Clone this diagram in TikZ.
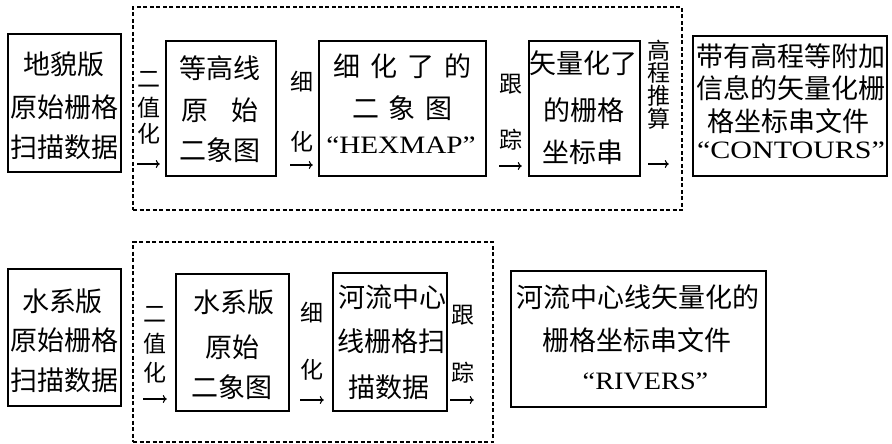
\documentclass[tikz,border=0pt]{standalone}
\usepackage{fontspec}
\setmainfont{Liberation Serif}
\newfontfamily\cjk{Noto Sans CJK SC}
\usetikzlibrary{arrows.meta}
\newcommand\cst{\rule[-3.24pt]{0pt}{27pt}}
\newcommand\lst{\rule[-2.76pt]{0pt}{23pt}}
\tikzset{
  box/.style={draw, line width=2.4pt, inner sep=0pt},
  dbox/.style={draw, line width=1.1pt, dash pattern=on 4pt off 2.5pt, inner sep=0pt},
  tx/.style={inner sep=0pt, font=\cjk\fontsize{27pt}{27pt}\selectfont},
  lb/.style={inner sep=0pt, font=\cjk\fontsize{23pt}{23pt}\selectfont},
  lat/.style={inner sep=0pt, font=\fontsize{25pt}{25pt}\selectfont},
  arr/.style={-{To[length=4pt,width=8pt]}, line width=1.1pt},
}
\begin{document}
\begin{tikzpicture}[x=1pt,y=-1pt]
\useasboundingbox (0,0) rectangle (892,444);
% dashed groups
\node[dbox, minimum width=549pt, minimum height=203pt] (g1) at (407.5,108.5) {};
\node[dbox, minimum width=360pt, minimum height=200pt] (g2) at (313,342) {};
% boxes top row
\node[box, minimum width=113pt, minimum height=138pt] (a) at (64.5,103) {};
\node[box, minimum width=110pt, minimum height=135pt] (b) at (221,108.5) {};
\node[box, minimum width=167pt, minimum height=135pt] (c) at (402.5,108.5) {};
\node[box, minimum width=111pt, minimum height=135pt] (d) at (584.5,108.5) {};
\node[box, minimum width=194pt, minimum height=140pt] (e) at (790,106) {};
% boxes bottom row
\node[box, minimum width=113pt, minimum height=137pt] (f) at (64.5,337.5) {};
\node[box, minimum width=113pt, minimum height=137pt] (g) at (232.5,342.5) {};
\node[box, minimum width=114pt, minimum height=138pt] (h) at (390,342) {};
\node[box, minimum width=255pt, minimum height=136pt] (i) at (638.5,339) {};
% box texts
\node[tx] (a1) at (64,64) {\cst 地貌版};
\node[tx] (a2) at (64,107) {\cst 原始栅格};
\node[tx] (a3) at (64,147) {\cst 扫描数据};
\node[tx] (b1) at (220,68) {\cst 等高线};
\node[tx] (b2) at (220,110) {\cst 原\hspace{24pt}始};
\node[tx] (b3) at (220,150) {\cst 二象图};
\node[tx] (c1) at (402.5,66) {\cst 细\hspace{10pt}化\hspace{10pt}了\hspace{10pt}的};
\node[tx] (c2) at (402.5,108) {\cst 二\hspace{10pt}象\hspace{10pt}图\hspace{37pt}};
\node[lat] (c3) at (401,145) {\scalebox{1.17}[1]{“HEXMAP”}};
\node[tx] (d1) at (583,63) {\cst 矢量化了};
\node[tx] (d2) at (584,110) {\cst 的栅格};
\node[tx] (d3) at (583,152) {\cst 坐标串};
\node[tx] (e1) at (791,56) {\cst 带有高程等附加};
\node[tx] (e2) at (791,88) {\cst 信息的矢量化栅};
\node[tx] (e3) at (788,121) {\cst 格坐标串文件};
\node[lat] (e4) at (791,150) {\scalebox{1.2}[1]{“CONTOURS”}};
\node[tx] (f1) at (62.5,301) {\cst 水系版};
\node[tx] (f2) at (64,340) {\cst 原始栅格};
\node[tx] (f3) at (64,380) {\cst 扫描数据};
\node[tx] (gt1) at (233.5,302) {\cst 水系版};
\node[tx] (gt2) at (232.5,347) {\cst 原始};
\node[tx] (gt3) at (232,387) {\cst 二象图};
\node[tx] (h1) at (392,297) {\cst 河流中心};
\node[tx] (h2) at (391,341) {\cst 线栅格扫};
\node[tx] (h3) at (389,387) {\cst 描数据};
\node[tx] (i1) at (638,297) {\cst 河流中心线矢量化的};
\node[tx] (i2) at (636.5,340) {\cst 栅格坐标串文件};
\node[lat] (i3) at (645.5,381) {\scalebox{1.13}[1]{“RIVERS”}};
% vertical labels
\node[lb] (l1a) at (148.5,79) {\lst 二};
\node[lb] (l1b) at (148.5,107.5) {\lst 值};
\node[lb] (l1c) at (148.5,134) {\lst 化};
\node[lb] (l2a) at (301.5,82) {\lst 细};
\node[lb] (l2b) at (301.5,142) {\lst 化};
\node[lb] (l3a) at (511,83.5) {\lst 跟};
\node[lb] (l3b) at (511,140) {\lst 踪};
\node[lb] (l4a) at (659,51) {\lst 高};
\node[lb] (l4b) at (659,73) {\lst 程};
\node[lb] (l4c) at (659,96) {\lst 推};
\node[lb] (l4d) at (659,118.5) {\lst 算};
\node[lb] (l5a) at (155,313.5) {\lst 二};
\node[lb] (l5b) at (155,344) {\lst 值};
\node[lb] (l5c) at (155,373) {\lst 化};
\node[lb] (l6a) at (311.5,313) {\lst 细};
\node[lb] (l6b) at (311.5,370) {\lst 化};
\node[lb] (l7a) at (462.5,315) {\lst 跟};
\node[lb] (l7b) at (462.5,373) {\lst 踪};
% arrows
\coordinate (p1) at (137,164);
\coordinate (p2) at (290,165);
\coordinate (p3) at (499,166);
\coordinate (p4) at (648,164);
\coordinate (p5) at (143,399);
\coordinate (p6) at (300,400);
\coordinate (p7) at (450,400);
\draw[arr, shorten >=5pt] (p1) -- (p1 -| b.west);
\draw[arr, shorten >=5pt] (p2) -- (p2 -| c.west);
\draw[arr, shorten >=6pt] (p3) -- (p3 -| d.west);
\draw[arr, shorten >=23pt] (p4) -- (p4 -| e.west);
\draw[arr, shorten >=8pt] (p5) -- (p5 -| g.west);
\draw[arr, shorten >=8pt] (p6) -- (p6 -| h.west);
\draw[arr, shorten >=36pt] (p7) -- (p7 -| i.west);
\end{tikzpicture}
\end{document}
